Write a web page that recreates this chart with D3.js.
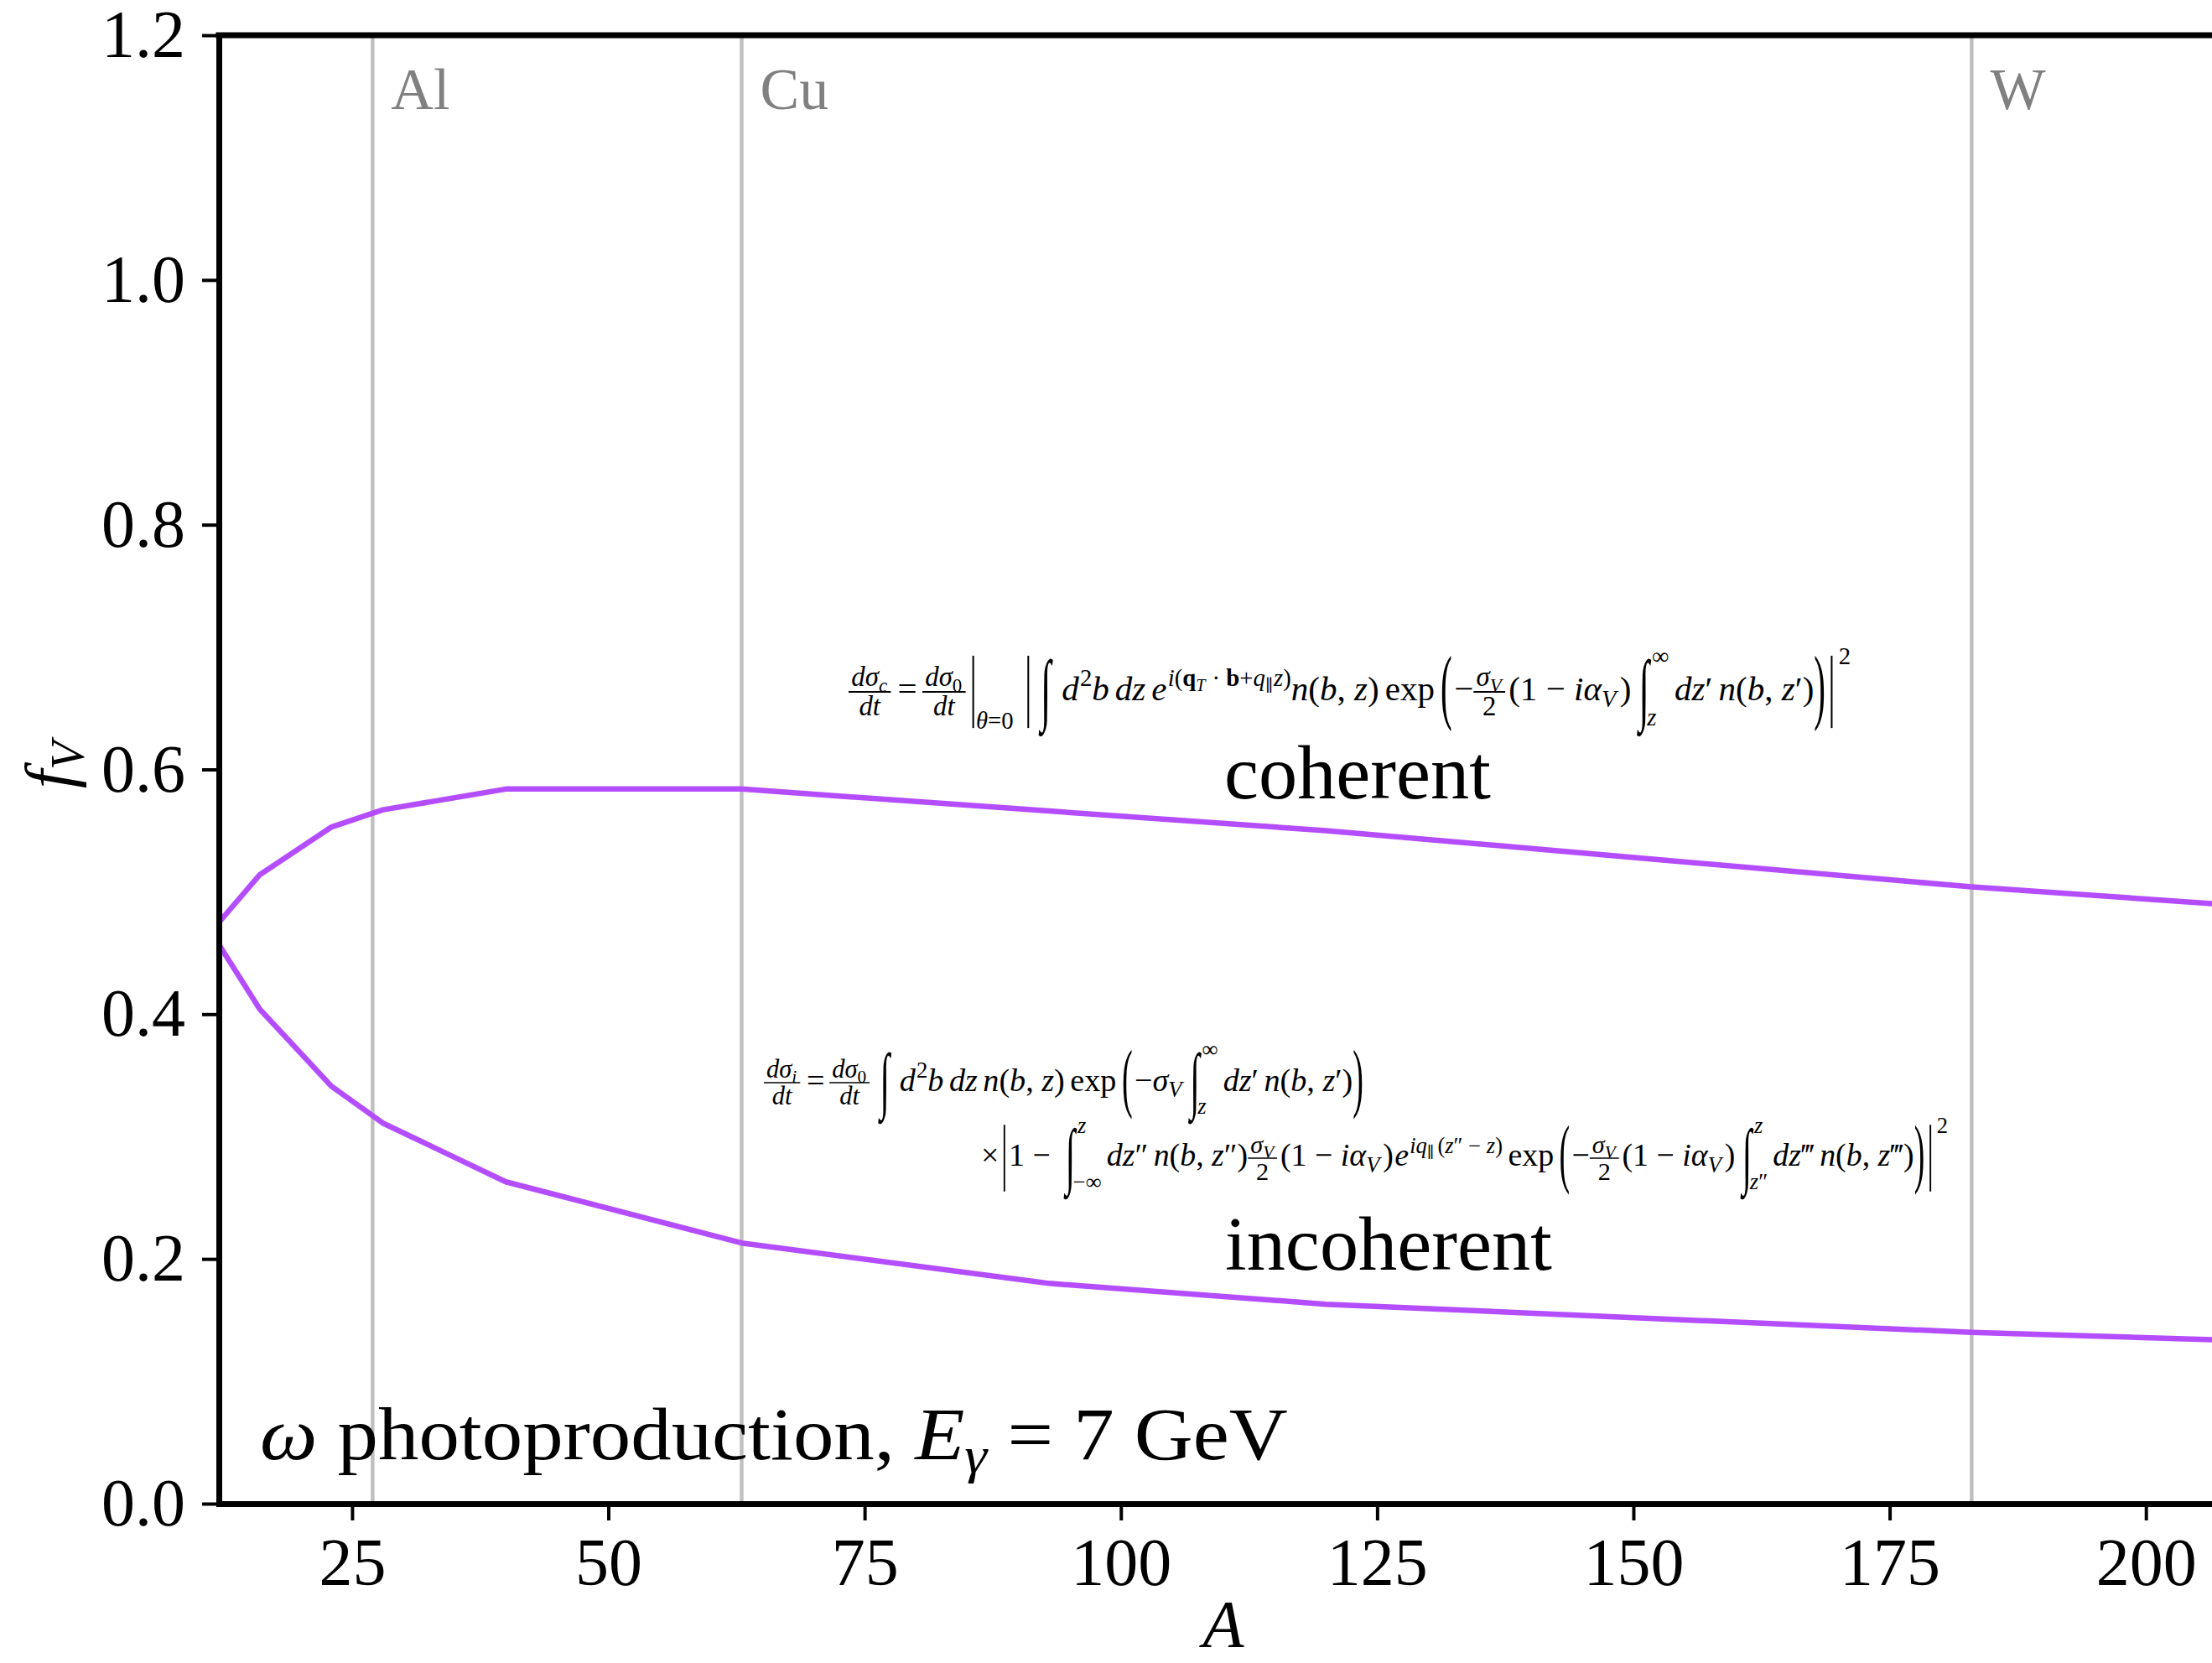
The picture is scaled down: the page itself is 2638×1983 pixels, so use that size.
<!DOCTYPE html>
<html>
<head>
<meta charset="utf-8">
<script src="https://cdn.jsdelivr.net/npm/d3@7"></script>
<style>
body { margin: 0; background: #fff; }
text { white-space: pre; }
</style>
</head>
<body>
<div id="chart-area"></div>
<script>
// nuclei that were computed (mass number A) and the two fractions f_V
var massNumbers = [12, 16, 23, 28, 40, 63, 93, 120, 183, 208];
var coherent = [0.475, 0.514, 0.553, 0.567, 0.584, 0.584, 0.566, 0.550, 0.504, 0.4895];
var incoherent = [0.457, 0.404, 0.341, 0.311, 0.263, 0.213, 0.180, 0.163, 0.140, 0.1336];

// target nuclei marked with grey lines
var markerNames = ['Al', 'Cu', 'W'];
var markerA = [27, 63, 183];

var xTicks = [25, 50, 75, 100, 125, 150, 175, 200];
var yTicks = [0, 0.2, 0.4, 0.6, 0.8, 1.0, 1.2];

var FONT = "'Liberation Serif', 'DejaVu Serif', serif";
var W = 2638, H = 1983;
var margin = { top: 42, right: -19, bottom: 190, left: 261 };
var width = W - margin.left - margin.right;
var height = H - margin.top - margin.bottom;

var svg = d3.select('#chart-area')
    .append('svg')
    .attr('width', W)
    .attr('height', H)
    .style('font-family', FONT);

var x = d3.scaleLinear().domain([12, 208]).range([margin.left, margin.left + width]);
var y = d3.scaleLinear().domain([0, 1.2]).range([margin.top + height, margin.top]);

svg.append('clipPath').attr('id', 'plot-clip')
    .append('rect')
    .attr('x', margin.left).attr('y', margin.top)
    .attr('width', width).attr('height', height);

// grey vertical lines for Al, Cu, W
svg.selectAll('.marker')
    .data(markerA)
    .enter()
    .append('line')
    .attr('class', 'marker')
    .attr('x1', function (d) { return x(d); })
    .attr('x2', function (d) { return x(d); })
    .attr('y1', y(1.2))
    .attr('y2', y(0))
    .attr('stroke', '#c0c0c0')
    .attr('stroke-width', 4.5);

svg.selectAll('.marker-label')
    .data(markerA)
    .enter()
    .append('text')
    .attr('class', 'marker-label')
    .attr('x', function (d) { return x(d) + 22; })
    .attr('y', 130)
    .attr('font-size', 70)
    .attr('fill', '#808080')
    .text(function (d, i) { return markerNames[i]; });

// the two curves
var line = d3.line()
    .x(function (d, i) { return x(massNumbers[i]); })
    .y(function (d) { return y(d); });

[coherent, incoherent].forEach(function (series) {
    svg.append('path')
        .datum(series)
        .attr('clip-path', 'url(#plot-clip)')
        .attr('d', line)
        .attr('fill', 'none')
        .attr('stroke', '#b44dff')
        .attr('stroke-width', 6.5)
        .attr('stroke-linejoin', 'round');
});

// axes
var xAxisCall = d3.axisBottom(x)
    .tickValues(xTicks)
    .tickSize(20)
    .tickPadding(20)
    .tickSizeOuter(0);
var gx = svg.append('g')
    .attr('transform', 'translate(0,' + y(0) + ')')
    .call(xAxisCall)
    .attr('font-size', 80)
    .attr('font-family', FONT);

var yAxisCall = d3.axisLeft(y)
    .tickValues(yTicks)
    .tickFormat(d3.format('.1f'))
    .tickSize(20)
    .tickPadding(20)
    .tickSizeOuter(0);
var gy = svg.append('g')
    .attr('transform', 'translate(' + margin.left + ',0)')
    .call(yAxisCall)
    .attr('font-size', 80)
    .attr('font-family', FONT);

[gx, gy].forEach(function (g) {
    g.select('.domain').attr('stroke-width', 7).attr('stroke-linecap', 'square');
    g.selectAll('.tick line').attr('stroke-width', 4);
    g.selectAll('.tick text').attr('fill', '#000');
});

svg.append('line')
    .attr('x1', margin.left).attr('x2', margin.left + width)
    .attr('y1', margin.top).attr('y2', margin.top)
    .attr('stroke', '#000').attr('stroke-width', 7).attr('stroke-linecap', 'square');
svg.append('line')
    .attr('x1', margin.left + width).attr('x2', margin.left + width)
    .attr('y1', margin.top).attr('y2', margin.top + height)
    .attr('stroke', '#000').attr('stroke-width', 7);

// axis titles
var ylab = svg.append('text')
    .attr('transform', 'translate(86,912) rotate(-90)')
    .attr('text-anchor', 'middle')
    .attr('font-size', 80)
    .attr('font-style', 'italic');
ylab.append('tspan').text('f');
ylab.append('tspan').attr('dy', 14).attr('font-size', 56).text('V');

svg.append('text')
    .attr('x', x(110))
    .attr('y', 1964)
    .attr('text-anchor', 'middle')
    .attr('font-size', 80)
    .attr('font-style', 'italic')
    .text('A');

// stretch a text horizontally so that its ink spans the given width
function fitText(sel, x0, base, targetWidth) {
    var bb = sel.node().getBBox();
    var sx = targetWidth / bb.width;
    sel.attr('transform', 'translate(' + (x0 - bb.x * sx) + ',' + base + ') scale(' + sx + ',1)');
}

var t1 = svg.append('text').attr('font-size', 90).text('coherent');
fitText(t1, 1460, 952, 318);
var t2 = svg.append('text').attr('font-size', 90).text('incoherent');
fitText(t2, 1461, 1514, 390);

var note = svg.append('text').attr('font-size', 88);
note.append('tspan').attr('font-style', 'italic').text('ω');
note.append('tspan').text(' photoproduction, ');
note.append('tspan').attr('font-style', 'italic').text('E');
note.append('tspan').attr('font-style', 'italic').attr('font-size', 62).attr('dy', 16).text('γ');
note.append('tspan').attr('dy', -16).text(' = 7 GeV');
fitText(note, 310, 1740, 1226);

// a very small typesetter for the two formulas
var MATH_SIZE = 43;

function mathRow(parent, toks, x0, base, size) {
    var cx = x0;
    toks.forEach(function (tk) {
        var kind = tk[0];
        if (kind === 'i' || kind === 'r' || kind === 'b') {
            var t = parent.append('text')
                .attr('x', cx).attr('y', base)
                .attr('font-size', size)
                .attr('font-style', kind === 'i' ? 'italic' : 'normal')
                .attr('font-weight', kind === 'b' ? 'bold' : 'normal')
                .text(tk[1]);
            cx += t.node().getComputedTextLength();
        } else if (kind === 'sp') {
            cx += tk[1] * size;
        } else if (kind === 'sup') {
            cx = mathRow(parent, tk[1], cx + 0.03 * size, base - 0.42 * size, size * 0.7);
        } else if (kind === 'sub') {
            cx = mathRow(parent, tk[1], cx, base + 0.2 * size, size * 0.7) + 0.03 * size;
        } else if (kind === 'bigsup') {
            cx = mathRow(parent, tk[1], cx + 0.06 * size, base - 1.05 * size, size * 0.7);
        } else if (kind === 'frac') {
            var axis = base - 0.25 * size;
            var gn = parent.append('g'), gd = parent.append('g');
            var wn = mathRow(gn, tk[1], 0, axis - 0.17 * size, size * 0.8);
            var wd = mathRow(gd, tk[2], 0, axis + 0.68 * size, size * 0.8);
            var w = Math.max(wn, wd) + 0.16 * size;
            gn.attr('transform', 'translate(' + (cx + (w - wn) / 2) + ',0)');
            gd.attr('transform', 'translate(' + (cx + (w - wd) / 2) + ',0)');
            parent.append('line')
                .attr('x1', cx).attr('x2', cx + w)
                .attr('y1', axis).attr('y2', axis)
                .attr('stroke', '#000').attr('stroke-width', 0.045 * size);
            cx += w + 0.1 * size;
        } else if (kind === 'big') {
            var axisB = base - 0.25 * size;
            var tb = parent.append('text')
                .attr('transform', 'translate(' + cx + ',' + axisB + ') scale(1,' + tk[2] + ')')
                .attr('y', 0.26 * size)
                .attr('font-size', size)
                .text(tk[1]);
            cx += tb.node().getComputedTextLength() + 0.06 * size;
        } else if (kind === 'vbar') {
            var axisV = base - 0.25 * size, hh = tk[1] * size / 2;
            cx += 0.12 * size;
            parent.append('line')
                .attr('x1', cx).attr('x2', cx)
                .attr('y1', axisV - hh).attr('y2', axisV + hh)
                .attr('stroke', '#000').attr('stroke-width', 0.05 * size);
            cx += 0.08 * size;
            if (tk[2]) cx = mathRow(parent, tk[2], cx, axisV + hh + 0.02 * size, size * 0.7);
            cx += 0.06 * size;
        } else if (kind === 'int') {
            // integral sign stretched to display height, limits on its right
            cx += 0.22 * size;
            var axisI = base - 0.25 * size;
            var ti = parent.append('text')
                .attr('transform', 'translate(' + cx + ',' + axisI + ') scale(1.1,2.3)')
                .attr('y', 0.3 * size)
                .attr('font-size', size)
                .text('∫');
            var wi = ti.node().getComputedTextLength() * 1.1;
            var xs = mathRow(parent, tk[1], cx + wi * 0.8, base + 0.72 * size, size * 0.7);
            var xu = mathRow(parent, tk[2], cx + wi * 1.25, base - 1.05 * size, size * 0.7);
            cx = Math.max(cx + wi + 0.15 * size, xs, xu) + 0.16 * size;
        }
    });
    return cx;
}

function drawMath(toks, x0, x1, axisY) {
    var inner = svg.append('g');
    mathRow(inner, toks, 0, 0, MATH_SIZE);
    var bb = inner.node().getBBox();
    var s = (x1 - x0) / bb.width;
    inner.attr('transform', 'translate(' + (x0 - bb.x * s) + ',' + (axisY + 0.25 * MATH_SIZE * s) + ') scale(' + s + ')');
}

var nbz = [['i', 'n'], ['r', '('], ['i', 'b'], ['r', ', '], ['i', 'z'], ['r', ')']];
var oneMinus = [['r', '(1 − '], ['i', 'iα'], ['sub', [['i', 'V']]], ['sp', 0.07], ['r', ')']];
var sigmaHalf = ['frac', [['i', 'σ'], ['sub', [['i', 'V']]]], [['r', '2']]];
var dsigma0 = ['frac', [['i', 'd'], ['i', 'σ'], ['sub', [['r', '0']]]], [['i', 'dt']]];

var eqCoherent = [
    ['frac', [['i', 'd'], ['i', 'σ'], ['sub', [['i', 'c']]]], [['i', 'dt']]],
    ['sp', 0.1], ['r', '='], ['sp', 0.15],
    dsigma0,
    ['vbar', 2.1, [['i', 'θ'], ['r', '=0']]],
    ['sp', 0.25],
    ['vbar', 2.1],
    ['int', [], []],
    ['i', 'd'], ['sup', [['r', '2']]], ['i', 'b'], ['sp', 0.17], ['i', 'dz'], ['sp', 0.17],
    ['i', 'e'], ['sup', [['i', 'i'], ['r', '('], ['b', 'q'], ['sub', [['i', 'T']]], ['r', ' · '], ['b', 'b'],
        ['r', '+'], ['i', 'q'], ['sub', [['r', '∥']]], ['i', 'z'], ['r', ')']]]
].concat(nbz, [
    ['sp', 0.17], ['r', 'exp'], ['sp', 0.17],
    ['big', '(', 2.4], ['r', '−'], sigmaHalf
], oneMinus, [
    ['int', [['i', 'z']], [['r', '∞']]],
    ['i', 'dz'], ['r', '′'], ['sp', 0.17],
    ['i', 'n'], ['r', '('], ['i', 'b'], ['r', ', '], ['i', 'z'], ['r', '′)'],
    ['big', ')', 2.4], ['vbar', 2.1], ['bigsup', [['r', '2']]]
]);

var eqIncoherent1 = [
    ['frac', [['i', 'd'], ['i', 'σ'], ['sub', [['i', 'i']]]], [['i', 'dt']]],
    ['sp', 0.1], ['r', '='], ['sp', 0.15],
    dsigma0,
    ['int', [], []],
    ['i', 'd'], ['sup', [['r', '2']]], ['i', 'b'], ['sp', 0.17], ['i', 'dz'], ['sp', 0.17]
].concat(nbz, [
    ['sp', 0.17], ['r', 'exp'], ['sp', 0.17],
    ['big', '(', 2.4], ['r', '−'], ['i', 'σ'], ['sub', [['i', 'V']]],
    ['int', [['i', 'z']], [['r', '∞']]],
    ['i', 'dz'], ['r', '′'], ['sp', 0.17],
    ['i', 'n'], ['r', '('], ['i', 'b'], ['r', ', '], ['i', 'z'], ['r', '′)'],
    ['big', ')', 2.4]
]);

var eqIncoherent2 = [
    ['r', '×'], ['sp', 0.05], ['vbar', 2.1], ['r', '1 − '],
    ['int', [['r', '−∞']], [['i', 'z']]],
    ['i', 'dz'], ['r', '″'], ['sp', 0.17],
    ['i', 'n'], ['r', '('], ['i', 'b'], ['r', ', '], ['i', 'z'], ['r', '″)'],
    sigmaHalf
].concat(oneMinus, [
    ['sp', 0.04],
    ['i', 'e'], ['sup', [['i', 'iq'], ['sub', [['r', '∥']]], ['sp', 0.12], ['r', '('], ['i', 'z'], ['r', '″ − '], ['i', 'z'], ['r', ')']]],
    ['sp', 0.17], ['r', 'exp'], ['sp', 0.17],
    ['big', '(', 2.4], ['r', '−'], sigmaHalf
], oneMinus, [
    ['int', [['i', 'z'], ['r', '″']], [['i', 'z']]],
    ['i', 'dz'], ['r', '‴'], ['sp', 0.17],
    ['i', 'n'], ['r', '('], ['i', 'b'], ['r', ', '], ['i', 'z'], ['r', '‴)'],
    ['big', ')', 2.4], ['vbar', 2.1], ['bigsup', [['r', '2']]]
]);

drawMath(eqCoherent, 1012, 2207, 825);
drawMath(eqIncoherent1, 911, 1626, 1291);
drawMath(eqIncoherent2, 1170, 2323, 1381);
</script>
</body>
</html>
